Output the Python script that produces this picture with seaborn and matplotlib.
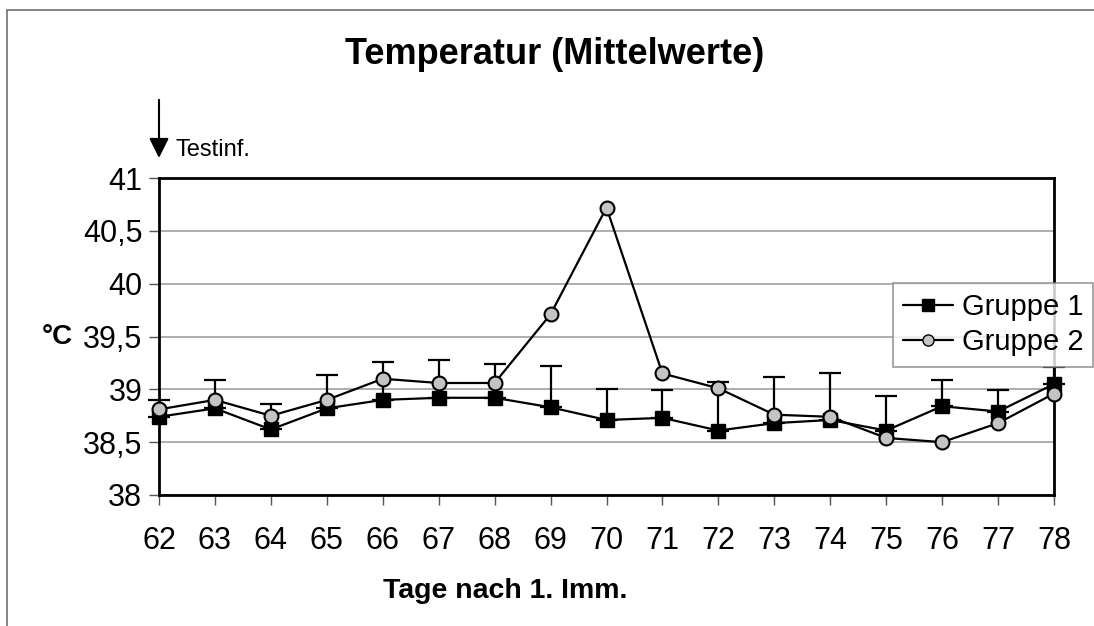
#!/usr/bin/env python3
"""Temperatur (Mittelwerte) - Gruppe 1 vs Gruppe 2, Tage nach 1. Imm."""

import matplotlib

matplotlib.use("Agg")
import matplotlib.pyplot as plt
import pandas as pd
import seaborn as sns
from matplotlib.lines import Line2D
from matplotlib.patches import Rectangle

days = [62, 63, 64, 65, 66, 67, 68, 69, 70, 71, 72, 73, 74, 75, 76, 77, 78]
gruppe1 = [38.74, 38.82, 38.62, 38.82, 38.90, 38.92, 38.92, 38.83, 38.71,
           38.73, 38.61, 38.68, 38.71, 38.61, 38.84, 38.79, 39.05]
gruppe1_upper = [38.90, 39.09, 38.86, 39.14, 39.26, 39.28, 39.24, 39.22, 39.00,
                 38.99, 39.07, 39.12, 39.15, 38.94, 39.09, 38.99, 39.21]
gruppe2 = [38.81, 38.90, 38.75, 38.90, 39.10, 39.06, 39.06, 39.71, 40.72,
           39.15, 39.01, 38.76, 38.74, 38.54, 38.50, 38.68, 38.96]
y_ticks = [38, 38.5, 39, 39.5, 40, 40.5, 41]
y_tick_labels = ["38", "38,5", "39", "39,5", "40", "40,5", "41"]

sns.set_style("ticks")
plt.rcParams["font.family"] = ["Liberation Sans", "DejaVu Sans"]
plt.rcParams["text.color"] = "black"
plt.rcParams["xtick.labelcolor"] = "black"
plt.rcParams["ytick.labelcolor"] = "black"

df = pd.DataFrame({"tag": days, "g1": gruppe1, "g1_up": gruppe1_upper, "g2": gruppe2})

fig = plt.figure(figsize=(10.94, 6.26), dpi=100)
ax = fig.add_axes([159 / 1094, 1 - 495 / 626, (1054 - 159) / 1094, (495 - 178) / 626])

# outer frame (cut off at right / bottom like the scan)
fig.patches.append(Rectangle((7 / 1094, -0.1), 1.2, 1 - 10 / 626 + 0.1,
                             transform=fig.transFigure, fill=False,
                             edgecolor="#707070", linewidth=1.2))

# upper error bars for Gruppe 1
eb = ax.errorbar(df["tag"], df["g1"], yerr=[[0] * len(df), df["g1_up"] - df["g1"]],
                 fmt="none", ecolor="black", elinewidth=1.6, capsize=8,
                 capthick=1.6, zorder=2)
for artist in eb.lines[1] + eb.lines[2]:
    artist.set_clip_on(False)

sns.lineplot(data=df, x="tag", y="g1", ax=ax, color="black", linewidth=1.6,
             marker="s", markersize=10, markerfacecolor="black",
             markeredgecolor="black", markeredgewidth=1, zorder=3, clip_on=False)
sns.lineplot(data=df, x="tag", y="g2", ax=ax, color="black", linewidth=1.6,
             marker="o", markersize=10, markerfacecolor="#c4c4c4",
             markeredgecolor="black", markeredgewidth=1.5, zorder=4, clip_on=False)

ax.set_xlim(62, 78)
ax.set_ylim(38, 41)
ax.set_xticks(days)
ax.set_xticklabels([str(d) for d in days])
ax.set_yticks(y_ticks)
ax.set_yticklabels(y_tick_labels)
ax.tick_params(axis="both", labelsize=22, length=7, width=1, color="#555555",
               direction="out", pad=5)
ax.tick_params(axis="x", pad=15)
ax.yaxis.grid(True, color="#a0a0a0", linewidth=1.2)
ax.set_axisbelow(True)
for side in ["left", "right", "top", "bottom"]:
    ax.spines[side].set_visible(True)
    ax.spines[side].set_linewidth(2)
    ax.spines[side].set_color("black")
ax.set_xlabel("")
ax.set_ylabel("")

fig.text(555 / 1094, 1 - 55 / 626, "Temperatur (Mittelwerte)", ha="center",
         va="center", fontsize=26, fontweight="bold")
fig.text(505 / 1094, 1 - 591 / 626, "Tage nach 1. Imm.", ha="center",
         va="center", fontsize=20.5, fontweight="bold")
fig.text(73 / 1094, 1 - 337 / 626, "°C", ha="right", va="center",
         fontsize=20, fontweight="bold")

# Testinfektion marker
ax.annotate("", xy=(62, 41.19), xytext=(62, 41.74), xycoords="data",
            annotation_clip=False,
            arrowprops=dict(arrowstyle="-|>", color="black", lw=1.5,
                            mutation_scale=30, shrinkA=0, shrinkB=0))
fig.text(175 / 1094, 1 - 150 / 626, "Testinf.", ha="left", va="center", fontsize=17)

handles = [
    Line2D([], [], color="black", linewidth=1.6, marker="s", markersize=8,
           markerfacecolor="black", markeredgecolor="black"),
    Line2D([], [], color="black", linewidth=1.6, marker="o", markersize=8,
           markerfacecolor="#c4c4c4", markeredgecolor="black"),
]
leg = fig.legend(handles, ["Gruppe 1", "Gruppe 2"], loc="upper left",
                 bbox_to_anchor=(893 / 1094, 1 - 283 / 626), fontsize=21,
                 frameon=True, fancybox=False, edgecolor="#808080",
                 handlelength=1.7, handletextpad=0.3, borderpad=0.35,
                 labelspacing=0.25, borderaxespad=0)
leg.get_frame().set_linewidth(1.2)

fig.savefig("out.png", dpi=100)
plt.close(fig)
